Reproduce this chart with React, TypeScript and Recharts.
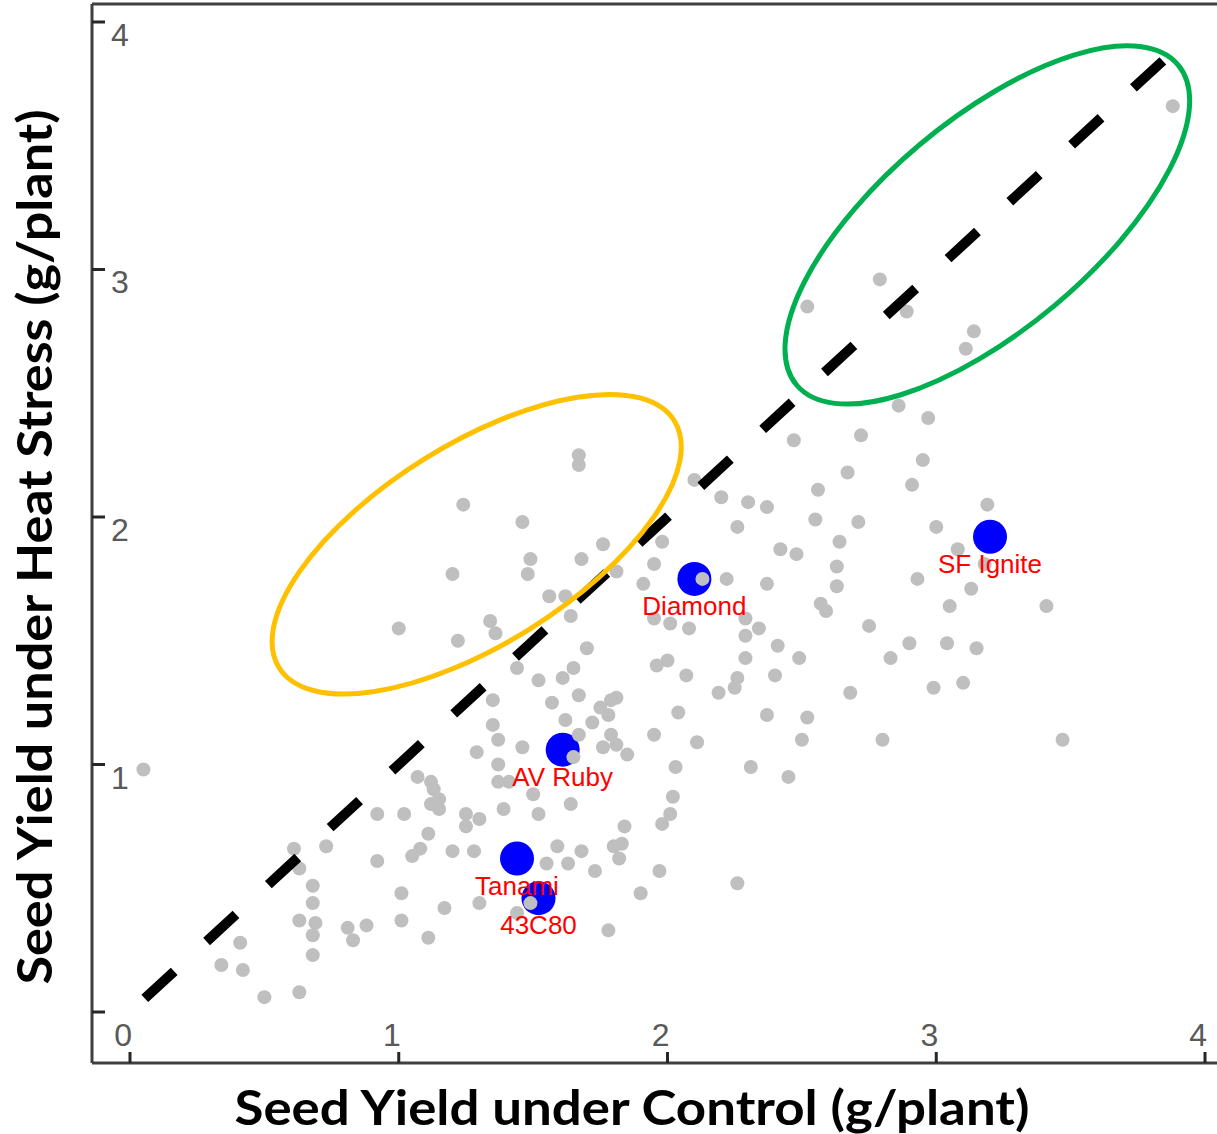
import React from 'react';
import { ScatterChart, Scatter, XAxis, YAxis, Label } from 'recharts';

// chart box and plot area (px)
const WIDTH = 1217;
const HEIGHT = 1134;
const PLOT_LEFT = 92;
const PLOT_TOP = 4;
const PLOT_BOTTOM = 1063;

const X_DOMAIN: [number, number] = [-0.1414, 4.0446];
const Y_DOMAIN: [number, number] = [-0.206, 4.0727];
const axisTicks = [0, 1, 2, 3, 4];

// all genotypes: seed yield (g/plant) under control vs heat stress
const controlYield = [
  0.05, 0.92, 0.61, 0.73, 0.63, 0.92, 0.68, 0.68, 0.63, 0.69, 0.68, 0.81, 0.88, 0.83, 0.68, 0.41, 0.34, 0.42, 0.5, 0.63,
  1.44, 1.52, 1.61, 1.65, 1.7, 1.35, 1.57, 1.67, 1.75, 1.79, 1.81, 1.78, 1.72, 1.62, 1.35, 1.37, 1.29, 1.46, 1.67, 1.79,
  1.81, 1.76, 1.85, 1.95, 2.0, 1.96, 2.04, 2.03, 1.65, 1.37, 1.37, 1.41, 1.07, 1.12, 1.13, 1.15, 1.12, 1.15, 1.02, 1.5,
  1.52, 1.39, 1.64, 1.25, 1.3, 1.25, 1.11, 1.08, 1.05, 1.2, 1.28, 1.59, 1.55, 1.63, 1.68, 1.73, 1.8, 1.83, 1.82, 1.84,
  1.97, 2.02, 2.01, 1.98, 1.01, 1.01, 1.17, 1.3, 1.44, 1.49, 1.9, 1.11, 1.78, 1.67, 1.67, 1.24, 1.46, 1.76, 1.68, 1.49,
  1.48, 1.2, 1.81, 1.98, 1.95, 1.91, 1.56, 1.62, 1.64, 1.34, 1.36, 1.0, 1.22, 1.95, 2.01, 2.79, 2.52, 2.89, 3.14, 3.11,
  2.86, 2.97, 2.72, 2.47, 2.95, 2.67, 2.91, 2.56, 2.1, 2.2, 2.3, 2.37, 2.55, 2.71, 3.0, 2.26, 2.64, 2.42, 2.48, 2.63,
  2.63, 3.08, 2.22, 2.37, 2.13, 2.93, 3.13, 2.57, 2.59, 3.05, 2.75, 2.29, 2.34, 2.08, 2.29, 2.41, 2.9, 3.04, 3.15, 2.83,
  2.29, 2.49, 2.07, 2.26, 2.4, 3.1, 2.19, 2.25, 2.68, 2.99, 2.37, 2.52, 2.11, 2.5, 2.8, 2.31, 2.45, 2.26, 3.88, 3.19,
  3.41, 3.47, 3.18,
];
const heatYield = [
  0.98, 0.8, 0.66, 0.67, 0.58, 0.61, 0.51, 0.44, 0.37, 0.36, 0.31, 0.34, 0.35, 0.29, 0.23, 0.28, 0.19, 0.17, 0.06, 0.08,
  1.39, 1.34, 1.35, 1.39, 1.47, 1.26, 1.25, 1.28, 1.23, 1.26, 1.27, 1.2, 1.17, 1.18, 1.16, 1.1, 1.05, 1.07, 1.12, 1.12,
  1.08, 1.07, 1.04, 1.12, 1.42, 1.4, 1.21, 0.99, 1.03, 1.0, 0.93, 0.93, 0.95, 0.93, 0.9, 0.86, 0.84, 0.82, 0.8, 0.88,
  0.8, 0.82, 0.84, 0.8, 0.78, 0.75, 0.72, 0.66, 0.63, 0.65, 0.65, 0.67, 0.6, 0.6, 0.65, 0.57, 0.67, 0.68, 0.62, 0.75,
  0.57, 0.87, 0.8, 0.76, 0.48, 0.37, 0.42, 0.44, 0.4, 0.44, 0.48, 0.3, 0.33, 2.25, 2.21, 2.05, 1.98, 1.89, 1.83, 1.83,
  1.77, 1.77, 1.78, 1.9, 1.81, 1.73, 1.68, 1.68, 1.6, 1.58, 1.53, 1.55, 1.5, 1.59, 1.57, 2.96, 2.85, 2.83, 2.75, 2.68,
  2.45, 2.4, 2.33, 2.31, 2.23, 2.18, 2.13, 2.11, 2.15, 2.08, 2.06, 2.04, 1.99, 1.98, 1.96, 1.96, 1.9, 1.87, 1.85, 1.8,
  1.72, 1.87, 1.75, 1.73, 1.75, 1.75, 1.71, 1.65, 1.62, 1.64, 1.56, 1.59, 1.55, 1.55, 1.52, 1.48, 1.49, 1.49, 1.47, 1.43,
  1.43, 1.43, 1.36, 1.35, 1.36, 1.33, 1.29, 1.31, 1.29, 1.31, 1.2, 1.19, 1.09, 1.1, 1.1, 0.99, 0.95, 0.52, 3.66, 2.05,
  1.64, 1.1, 1.81,
];

// named genotypes
const highlightNames = ['Tanami', '43C80', 'AV Ruby', 'Diamond', 'SF Ignite'];
const highlightControl = [1.44, 1.52, 1.61, 2.1, 3.2];
const highlightHeat = [0.62, 0.46, 1.06, 1.75, 1.92];

// 1:1 line ends
const parityEnds = [0.055, 3.86];

// ellipse annotation centres
const zoneControl = [1.29, 3.19];
const zoneHeat = [1.89, 3.18];
const zoneStyles = [
  { rx: 233, ry: 100, angle: -32, stroke: '#FFC000' },
  { rx: 249, ry: 105, angle: -40, stroke: '#00B050' },
];

const grayPoints = controlYield.map((x, i) => ({ x, y: heatYield[i] }));
const bluePoints = highlightNames.map((name, i) => ({ name, x: highlightControl[i], y: highlightHeat[i] }));
const parityPoints = parityEnds.map((v) => ({ x: v, y: v }));
const zonePoints = zoneControl.map((x, i) => ({ x, y: zoneHeat[i], idx: i }));

const TICK_FONT = '"Liberation Sans", Arial, sans-serif';
const TITLE_FONT = 'Lato, "DejaVu Sans", sans-serif';

// y ticks point inward; the shared origin is labelled once, on the x axis
const YTick = ({ y, payload }: any) => (
  <g>
    <line x1={PLOT_LEFT} x2={PLOT_LEFT + 13} y1={y} y2={y} stroke="#262626" strokeWidth={3} />
    {payload.value !== 0 && (
      <text x={PLOT_LEFT + 19} y={y + 24} fontFamily={TICK_FONT} fontSize={32} fill="#595959">
        {payload.value}
      </text>
    )}
  </g>
);

const XTick = ({ x, payload }: any) => (
  <g>
    <line x1={x} x2={x} y1={PLOT_BOTTOM} y2={PLOT_BOTTOM - 11} stroke="#262626" strokeWidth={3} />
    <text x={x + 2} y={PLOT_BOTTOM - 17} textAnchor="end" fontFamily={TICK_FONT} fontSize={32} fill="#595959">
      {payload.value}
    </text>
  </g>
);

const GrayDot = (props: any) => <circle cx={props.cx} cy={props.cy} r={7} fill="#BFBFBF" />;
const BlueDot = (props: any) => <circle cx={props.cx} cy={props.cy} r={17} fill="#0000FF" />;
const NoDot = () => <g />;

const ZoneEllipse = (props: any) => {
  const s = zoneStyles[props.payload.idx];
  return (
    <ellipse
      cx={props.cx}
      cy={props.cy}
      rx={s.rx}
      ry={s.ry}
      transform={`rotate(${s.angle} ${props.cx} ${props.cy})`}
      fill="none"
      stroke={s.stroke}
      strokeWidth={5}
    />
  );
};

const NameTag = (props: any) => (
  <text
    x={props.cx}
    y={props.cy + 36}
    textAnchor="middle"
    fontFamily={TICK_FONT}
    fontSize={26}
    fill="#FF0000"
  >
    {props.payload.name}
  </text>
);

const XTitle = () => (
  <text
    x={632}
    y={1125}
    textAnchor="middle"
    fontFamily={TITLE_FONT}
    fontWeight={700}
    fontSize={48}
    textLength={795}
    lengthAdjust="spacingAndGlyphs"
    fill="#000"
  >
    Seed Yield under Control (g/plant)
  </text>
);

const YTitle = () => (
  <text
    x={52}
    y={547}
    transform="rotate(-90 52 547)"
    textAnchor="middle"
    fontFamily={TITLE_FONT}
    fontWeight={700}
    fontSize={48}
    textLength={875}
    lengthAdjust="spacingAndGlyphs"
    fill="#000"
  >
    Seed Yield under Heat Stress (g/plant)
  </text>
);

export default function App() {
  return (
    <div style={{ position: 'absolute', left: 0, top: 0, width: WIDTH, height: HEIGHT, background: '#fff' }}>
      <ScatterChart width={WIDTH} height={HEIGHT} margin={{ top: 0, right: 0, bottom: 0, left: 0 }}>
        <XAxis
          type="number"
          dataKey="x"
          domain={X_DOMAIN}
          allowDataOverflow
          ticks={axisTicks}
          interval={0}
          height={HEIGHT - PLOT_BOTTOM}
          tickLine={false}
          axisLine={{ stroke: '#404040', strokeWidth: 3 }}
          tick={<XTick />}
        >
          <Label content={<XTitle />} />
        </XAxis>
        <XAxis
          xAxisId="top"
          orientation="top"
          type="number"
          dataKey="x"
          domain={X_DOMAIN}
          allowDataOverflow
          height={PLOT_TOP}
          tick={false}
          tickLine={false}
          axisLine={{ stroke: '#404040', strokeWidth: 3 }}
        />
        <YAxis
          type="number"
          dataKey="y"
          domain={Y_DOMAIN}
          allowDataOverflow
          ticks={axisTicks}
          interval={0}
          width={PLOT_LEFT}
          tickLine={false}
          axisLine={{ stroke: '#404040', strokeWidth: 3 }}
          tick={<YTick />}
        >
          <Label content={<YTitle />} />
        </YAxis>
        <Scatter data={bluePoints} shape={BlueDot} isAnimationActive={false} />
        <Scatter data={grayPoints} shape={GrayDot} isAnimationActive={false} />
        <Scatter
          data={parityPoints}
          shape={NoDot}
          line={{ stroke: '#000', strokeWidth: 10, strokeDasharray: '40 44' }}
          isAnimationActive={false}
        />
        <Scatter data={zonePoints} shape={ZoneEllipse} isAnimationActive={false} />
        <Scatter data={bluePoints} shape={NameTag} isAnimationActive={false} />
      </ScatterChart>
    </div>
  );
}
